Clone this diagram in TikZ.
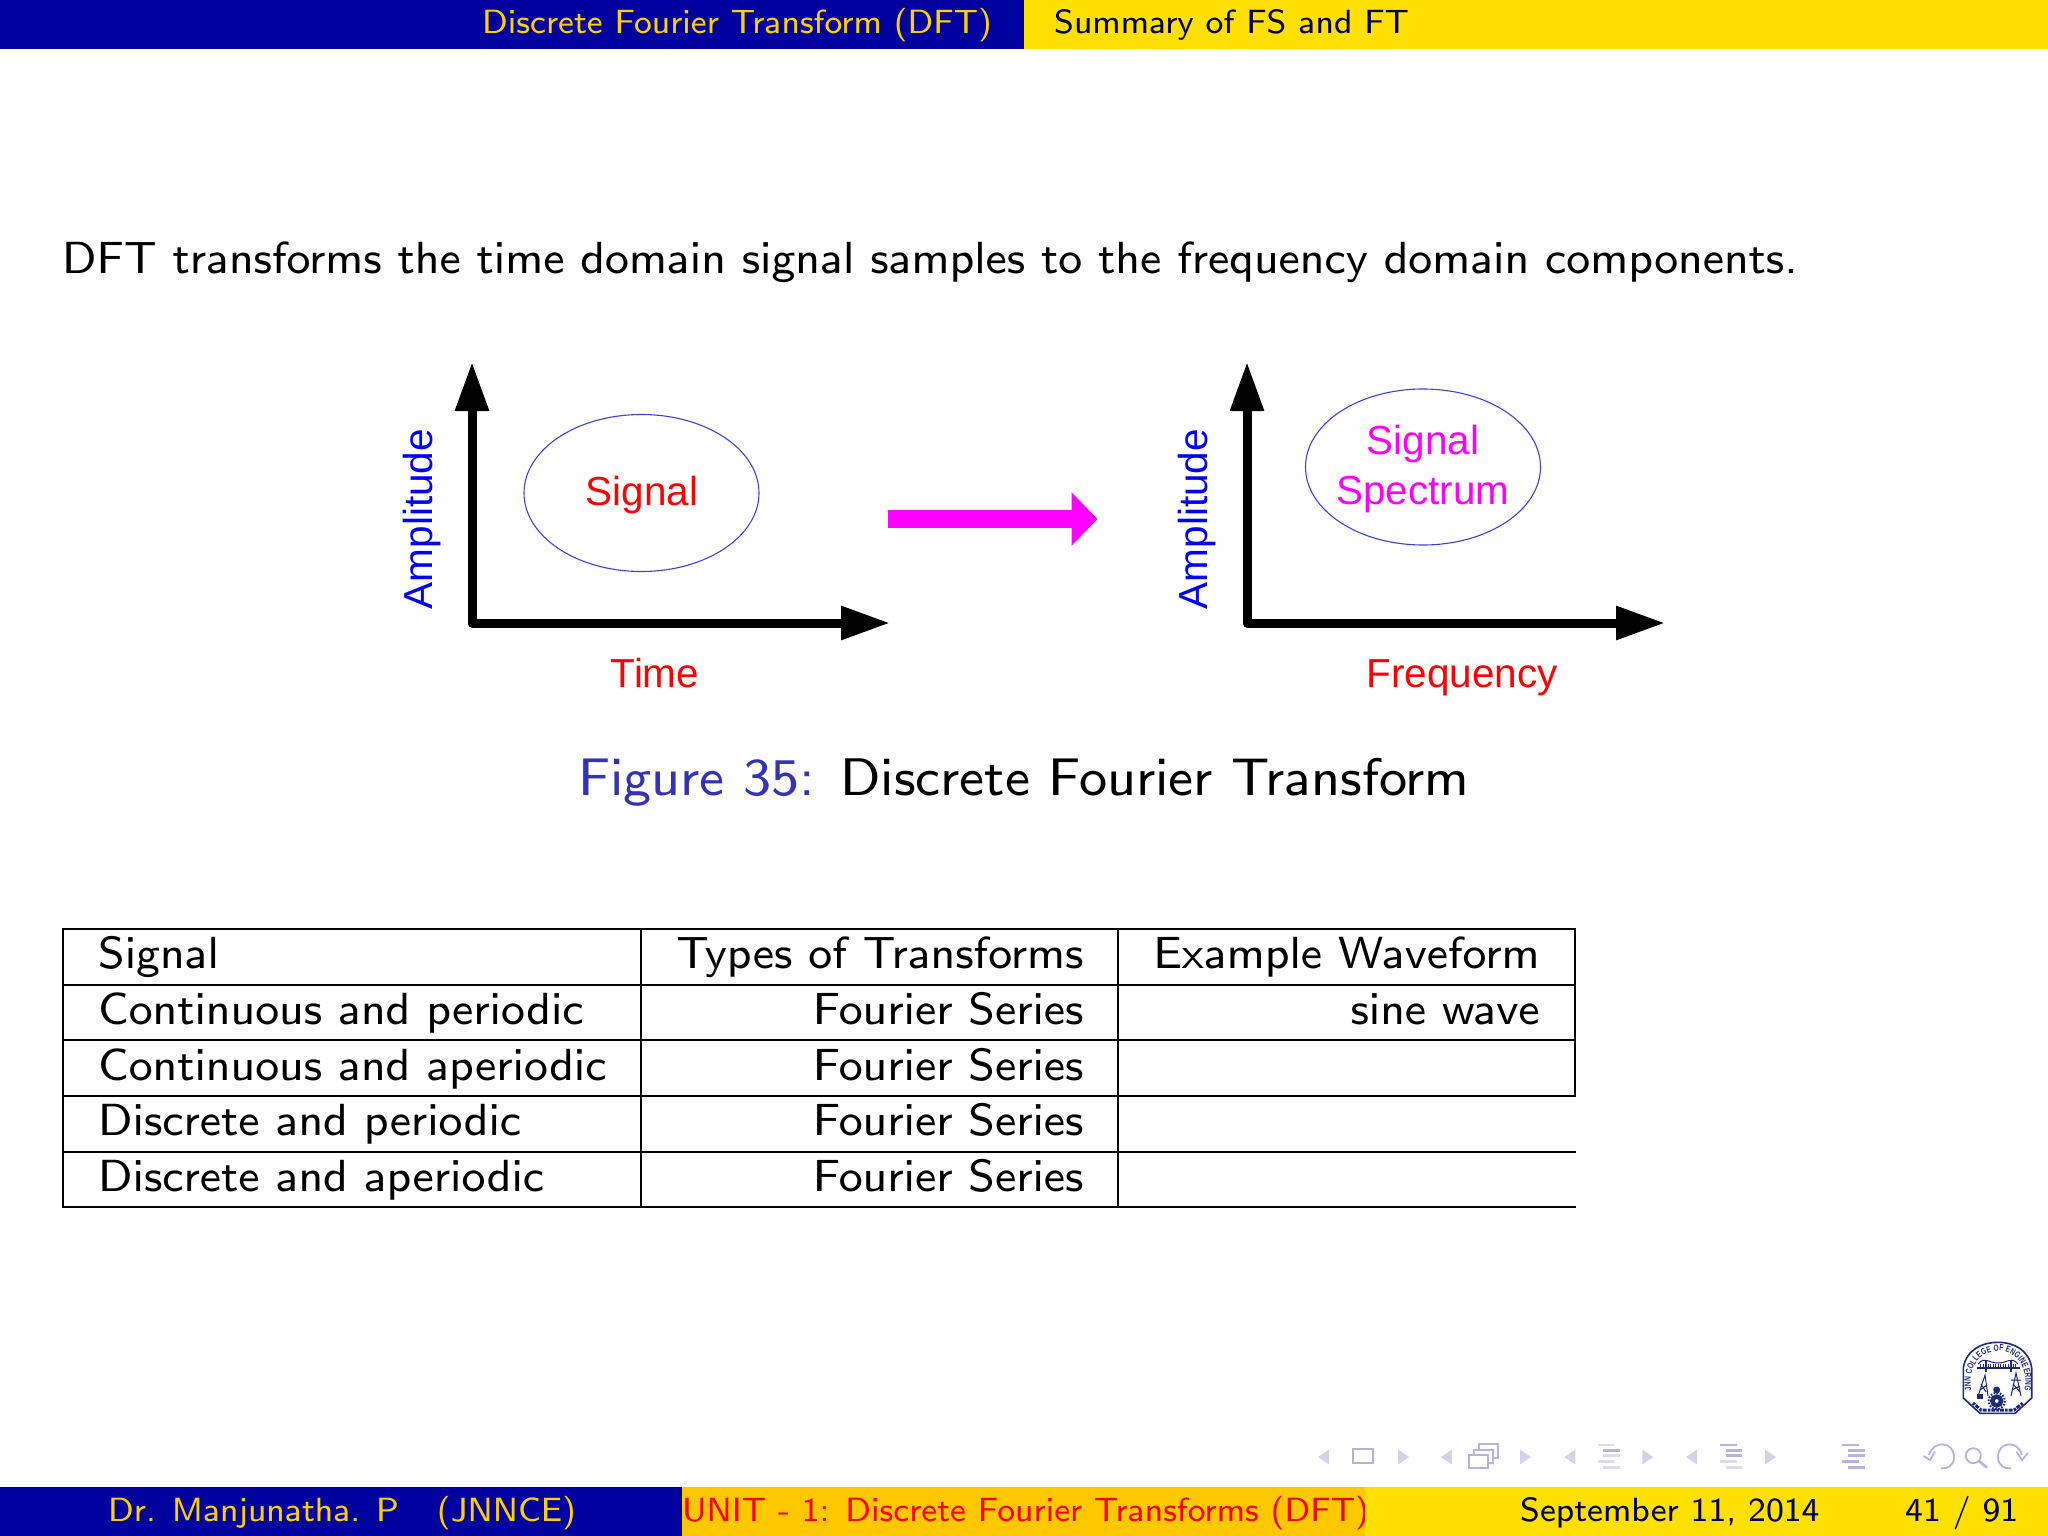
\documentclass[tikz,border=0pt]{standalone}
\usepackage{fontspec}
\setmainfont{Liberation Sans}
\newfontfamily\logof[FakeStretch=0.72]{Liberation Sans Bold}
\usetikzlibrary{arrows.meta,decorations.text}
\font\bodyf=cmss8 at 45pt
\font\capf=cmss8 at 52.9pt
\font\footf=cmss8 at 33.6pt
\definecolor{barblue}{HTML}{00009F}
\definecolor{baryellow}{HTML}{FFE000}
\definecolor{barorange}{HTML}{FFC800}
\definecolor{txtyellow}{HTML}{FFD000}
\definecolor{navy}{HTML}{00004F}
\definecolor{capblue}{HTML}{3333B3}
\definecolor{ellblue}{HTML}{4040D8}
\definecolor{navtri}{HTML}{D2D2EC}
\definecolor{navdark}{HTML}{B4B4DE}
\definecolor{navlight}{HTML}{DCDCEF}
\definecolor{mag}{HTML}{FF00FF}
\definecolor{logoblue}{HTML}{1C2878}
\tikzset{
 x=1pt,y=-1pt,
 axisline/.style={line width=9pt,line join=round,{Triangle[length=49pt,width=32pt]}-{Triangle[length=49pt,width=32pt]}},
 bigarrow/.style={line width=18pt,mag,-{Triangle[length=26pt,width=52pt]}},
 blob/.style={draw=ellblue,line width=1.1pt},
 redlbl/.style={text=red,font=\fontsize{40.5}{46}\selectfont,inner sep=0pt,anchor=base},
 maglbl/.style={text=mag,font=\fontsize{40.5}{46}\selectfont,inner sep=0pt,anchor=base},
 bluelbl/.style={text=blue,font=\fontsize{40.5}{46}\selectfont,inner sep=0pt,rotate=90},
 body/.style={font=\bodyf,inner sep=0pt,anchor=base west},
 cellr/.style={font=\bodyf,inner sep=0pt,anchor=base east},
 foot/.style={font=\footf,inner sep=0pt,anchor=base west},
 rule/.style={line width=2.2pt,black},
 navf/.style={fill=navtri,draw=none},
 navl/.style={draw=navdark,line width=1.8pt,fill=none},
 navbd/.style={draw=navdark,line width=2.7pt},
 navbl/.style={draw=navlight,line width=2.7pt},
 logol/.style={draw=logoblue,line width=1pt,fill=none},
}
\newcommand{\navleft}[2]{\fill[navf] (#1,#2) -- ++(11,-7.5) -- ++(0,15) -- cycle;}
\newcommand{\navright}[2]{\fill[navf] (#1,#2) -- ++(-11,-7.5) -- ++(0,15) -- cycle;}
\begin{document}
\begin{tikzpicture}
\useasboundingbox (0,0) rectangle (2048,1536);
% bars
\fill[barblue] (0,0) rectangle (1024,49);
\fill[baryellow] (1024,0) rectangle (2048,49);
\fill[barblue] (0,1487) rectangle (682,1536);
\fill[barorange] (682,1487) rectangle (1365,1536);
\node[foot,text=txtyellow] (t1) at (482,34) {Discrete Fourier Transform (DFT)};
\node[foot,text=navy] (t2) at (1054,34) {Summary of FS and FT};
\node[foot,text=txtyellow] (f1) at (108,1521) {Dr. Manjunatha. P\hspace{26pt} (JNNCE)};
\node[foot,text=red] (f2) at (682,1521) {UNIT - 1: Discrete Fourier Transforms (DFT)};
\fill[baryellow] (1365,1487) rectangle (2048,1536);
\node[foot,text=navy] (f3) at (1520,1521) {September 11, 2014};
\node[foot,text=navy] (f4) at (1905,1521) {41 / 91};
% body
\node[body] (intro) at (62,273) {DFT transforms the time domain signal samples to the frequency domain components.};
% left graph
\coordinate (a1t) at (472,362); \coordinate (a1c) at (472,623); \coordinate (a1r) at (890,623);
\draw[axisline] (a1t) -- (a1c) -- (a1r);
\coordinate (e1c) at (641.5,493);
\draw[blob] (e1c) ellipse [x radius=117.5,y radius=78.5];
\node[redlbl] (sig) at (642,505) {Signal};
\node[redlbl] (time) at (655,687) {Time};
\node[bluelbl] (amp1) at (422,519) {Amplitude};
% arrow
\coordinate (m1) at (888,519); \coordinate (m2) at (1097.5,519);
\draw[bigarrow] (m1) -- (m2);
% right graph
\coordinate (a2t) at (1247,362); \coordinate (a2c) at (1247,623); \coordinate (a2r) at (1665,623);
\draw[axisline] (a2t) -- (a2c) -- (a2r);
\coordinate (e2c) at (1423,467);
\draw[blob] (e2c) ellipse [x radius=117.5,y radius=78];
\node[maglbl] (sp1) at (1423,454) {Signal};
\node[maglbl] (sp2) at (1423,504) {Spectrum};
\node[redlbl] (freq) at (1462,687) {Frequency};
\node[bluelbl] (amp2) at (1197,519) {Amplitude};
% caption
\node[font=\capf,inner sep=0pt,anchor=base west,text=capblue] (capa) at (578,795) {Figure 35:};
\node[font=\capf,inner sep=0pt,anchor=base west] (capb) at (840,795) {Discrete Fourier Transform};
% table
\foreach \y in {929,985,1040,1096,1152,1207} \draw[rule] (62,\y) -- (1576,\y);
\draw[rule] (63,928) -- (63,1208);
\draw[rule] (641,928) -- (641,1208);
\draw[rule] (1118,928) -- (1118,1208);
\draw[rule] (1575,928) -- (1575,1097);
\node[body] (c11) at (98,968) {Signal};
\node[body] (c21) at (98,1024) {Continuous and periodic};
\node[body] (c31) at (98,1080) {Continuous and aperiodic};
\node[body] (c41) at (98,1135) {Discrete and periodic};
\node[body] (c51) at (98,1191) {Discrete and aperiodic};
\node[cellr] (c12) at (1084,968) {Types of Transforms};
\node[cellr] (c22) at (1084,1024) {Fourier Series};
\node[cellr] (c32) at (1084,1080) {Fourier Series};
\node[cellr] (c42) at (1084,1135) {Fourier Series};
\node[cellr] (c52) at (1084,1191) {Fourier Series};
\node[cellr] (c13) at (1540,968) {Example Waveform};
\node[cellr] (c23) at (1540,1024) {sine wave};
% navigation symbols
\navleft{1318}{1457}
\draw[navl] (1353.3,1449.3) rectangle (1373.3,1463.3);
\navright{1409}{1457}
\navleft{1441}{1457}
\draw[navl] (1479,1444.3) rectangle (1497.7,1458.3);
\draw[navl,fill=white] (1474,1449.7) rectangle (1493,1463);
\draw[navl,fill=white] (1469,1455) rectangle (1488.3,1467.7);
\navright{1531}{1457}
\navleft{1564.3}{1457}
\draw[navbl] (1597.7,1445) -- (1614.3,1445);
\draw[navbd] (1603.3,1450.3) -- (1620,1450.3);
\draw[navbl] (1603.3,1455.7) -- (1620,1455.7);
\draw[navbl] (1597.7,1461.7) -- (1614.3,1461.7);
\draw[navbl] (1603.3,1467.7) -- (1620,1467.7);
\navright{1653.3}{1457}
\navleft{1686}{1457}
\draw[navbd] (1720,1445) -- (1736.7,1445);
\draw[navbd] (1725.7,1450.3) -- (1742.3,1450.3);
\draw[navbd] (1725.7,1455.7) -- (1742.3,1455.7);
\draw[navbl] (1720,1461.7) -- (1736.7,1461.7);
\draw[navbl] (1725.7,1467.7) -- (1742.3,1467.7);
\navright{1776}{1457}
\foreach \y/\a in {1445/1842.3,1450.3/1848,1455.7/1848,1461.7/1842.3,1467.7/1848}
  \draw[navbd] (\a,\y) -- ++(16.7,0);
% back, search, forward
\draw[navl] (1929,1455) .. controls (1933,1440) and (1954,1441) .. (1954,1457) .. controls (1954,1465) and (1948,1469) .. (1941,1468.5);
\draw[navl] (1923.5,1456) -- (1930,1460) -- (1935,1451.5);
\draw[navl] (1973.3,1455.7) circle [radius=7.5];
\draw[navl,line width=2.6pt] (1978.8,1461) -- (1987,1467.5);
\draw[navl] (2022,1455) .. controls (2018,1440) and (1998,1441) .. (1998,1457) .. controls (1998,1465) and (2004,1469) .. (2011,1468.5);
\draw[navl] (2028,1453) -- (2022,1460) -- (2016.5,1451.5);
% logo
\draw[draw=logoblue,line width=1.6pt] (1963.3,1398) -- (1963.3,1368) .. controls (1966,1350) and (1982,1342.3) .. (1997.7,1342.3) .. controls (2014,1342.3) and (2029,1350) .. (2031.7,1368) -- (2031.7,1398) -- (2015,1413.3) -- (1980,1413.3) -- cycle;
\path[decorate,decoration={text along path,text align={fit to path},text color=logoblue,
  text={|\logof\fontsize{9}{10}\selectfont|JNN COLLEGE OF ENGINEERING}}]
  (1971.5,1390) .. controls (1963,1338) and (2033,1338) .. (2024.5,1390);
% bridge
\draw[logol] (1978,1364) .. controls (1985,1356) and (1988,1363) .. (1998,1363) .. controls (2008,1363) and (2011,1356) .. (2018,1364);
\draw[logol,line width=1.6pt] (1977,1368) -- (2020,1368);
\draw[logol,dash pattern=on 1pt off 1.5pt,line width=3pt] (1980,1365) -- (2017,1365);
\foreach \a in {1986,2011} \draw[logol,line width=1.4pt] (\a,1360) -- (\a,1372);
% towers
\draw[logol] (1978,1396) -- (1985,1375) -- (1988,1396) (1980,1390) -- (1987,1385) (1981,1384) -- (1986,1392);
\fill[logoblue] (1977,1394) rectangle (1983,1399);
\draw[logol] (2011,1396) -- (2016,1373) -- (2021,1396) (2012,1390) -- (2020,1386) (2013,1384) -- (2020,1392) (2011,1380) -- (2021,1380);
% gears
\fill[logoblue] (1996.7,1390) circle [radius=3.5];
\draw[logoblue,line width=4.5pt] (1996.7,1401) circle [radius=4.4];
\draw[logoblue,line width=2pt,dash pattern=on 1.6pt off 1.6pt] (1996.7,1401) circle [radius=8.2];
% motto band (script drawn as strokes)
\draw[logoblue,line width=3pt,dash pattern=on 2.5pt off 1pt on 4pt off 1.2pt] (1973,1403) -- (1981,1410) -- (2014,1410) -- (2023,1403);
\end{tikzpicture}
\end{document}
